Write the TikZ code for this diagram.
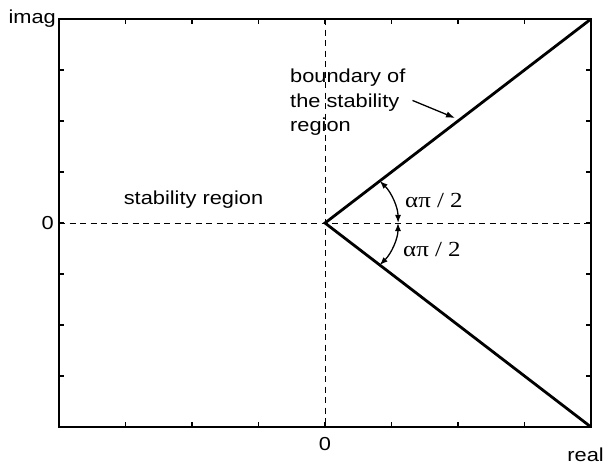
\documentclass[tikz,border=0pt]{standalone}
\usepackage{fontspec}
\setmainfont[FakeStretch=1.16]{Liberation Sans}
\newfontfamily\grk[FakeStretch=1.16]{Liberation Serif}
\usetikzlibrary{arrows.meta,calc}
\begin{document}
\begin{tikzpicture}[x=1pt,y=-1pt,
  frame/.style={line width=1.8pt},
  bnd/.style={line width=2.8pt},
  axdash/.style={line width=0.9pt, dash pattern=on 6pt off 4.5pt},
  tickmark/.style={line width=1.3pt},
  lbl/.style={font=\fontsize{18.8}{22}\selectfont, inner sep=0pt},
  glbl/.style={font=\grk\fontsize{21.5}{24}\selectfont, inner sep=0pt},
  ang/.style={line width=1.3pt, {Latex[length=8pt,width=6pt]}-{Latex[length=8pt,width=6pt]}},
  ptrarrow/.style={line width=1.3pt, -{Latex[length=9pt,width=6.5pt]}}]
\useasboundingbox (0,0) rectangle (605,466);
\coordinate (O) at (325,223);
\coordinate (TL) at (59,19);
\coordinate (TR) at (591,19);
\coordinate (BR) at (591,427);
\coordinate (BL) at (59,427);
% dashed axes
\draw[axdash] (325,19) -- (325,427);
\draw[axdash] (59,223) -- (591,223);
% ticks
\foreach \i in {1,...,7}{
  \pgfmathsetmacro{\tx}{59+66.5*\i}
  \pgfmathsetmacro{\ty}{19+51*\i}
  \draw[tickmark] (\tx,427) -- (\tx,422);
  \draw[tickmark] (\tx,19) -- (\tx,24);
  \draw[tickmark] (59,\ty) -- (64,\ty);
  \draw[tickmark] (591,\ty) -- (586,\ty);
}
% frame
\draw[frame] (TL) rectangle (BR);
% stability boundary
\draw[bnd] (TR) -- (O) -- (BR);
% angle arcs
\draw[ang] ($(O)+(54.8,-42)$) arc[start angle=41.4, end angle=0, x radius=73pt, y radius=63.5pt];
\draw[ang] ($(O)+(73,0)$) arc[start angle=0, end angle=-41.4, x radius=73pt, y radius=63.5pt];
% labels
\node[lbl, anchor=base east] (imag) at (56,23) {imag};
\node[lbl, anchor=east] (y0) at (54,223) {0};
\node[lbl] (x0) at (325,444) {0};
\node[lbl, anchor=base east] (real) at (604,461) {real};
\node[lbl, anchor=base] (stab) at (193.5,204) {stability region};
\node[lbl, anchor=base west] (b1) at (290,82.3) {boundary of};
\node[lbl, anchor=base west] (b2) at (290,107.3) {the stability};
\node[lbl, anchor=base west] (b3) at (290,131.7) {region};
\coordinate (ptr) at (455,118);
\draw[ptrarrow] ([xshift=13pt,yshift=2pt]b2.east) -- (ptr);
\node[glbl, anchor=base west] (a1) at (405,207) {απ / 2};
\node[glbl, anchor=base west] (a2) at (403,256) {απ / 2};
\end{tikzpicture}
\end{document}
